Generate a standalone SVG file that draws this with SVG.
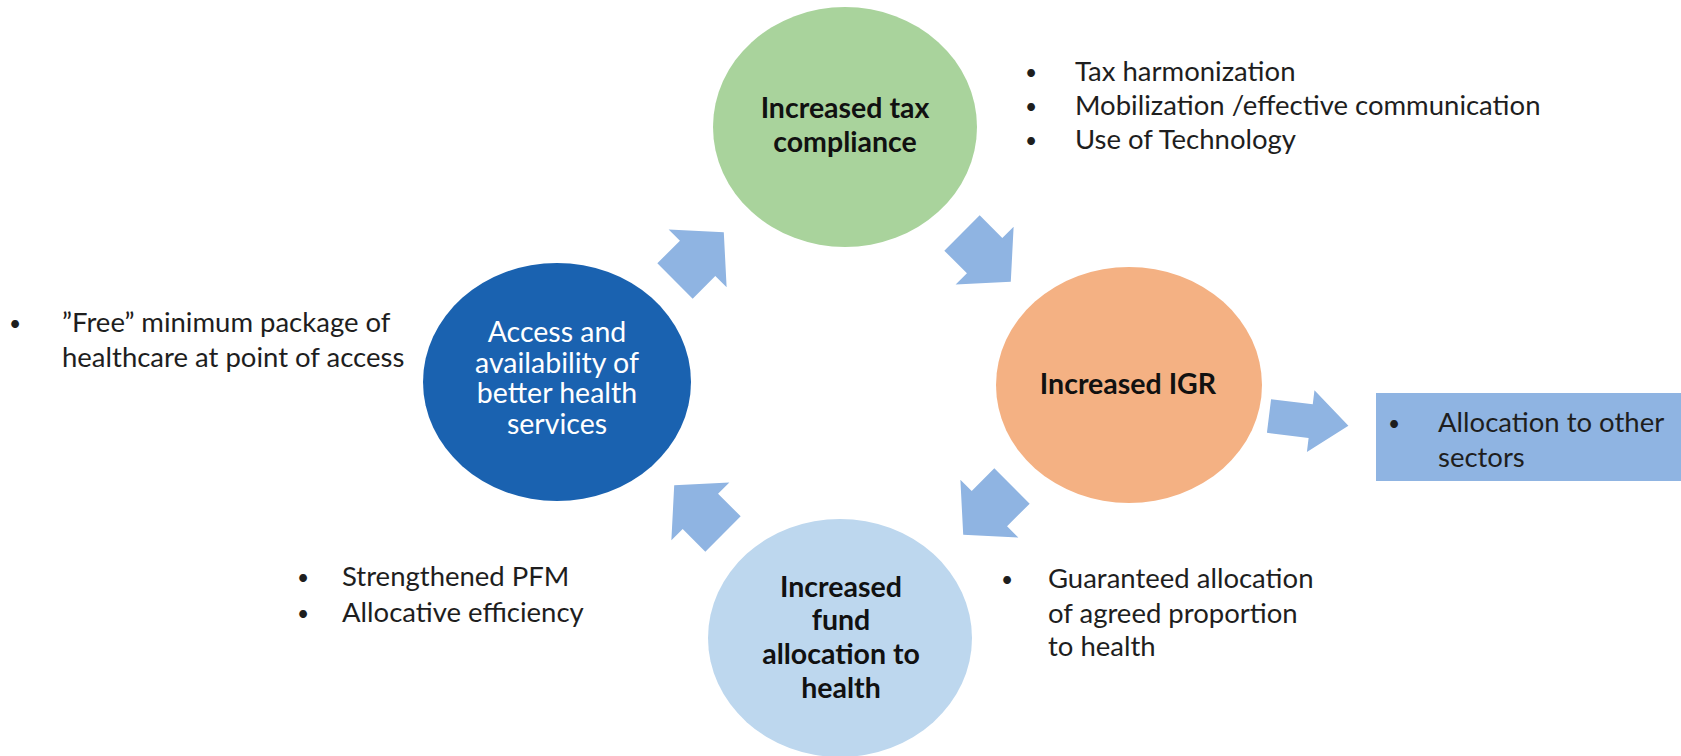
<svg xmlns="http://www.w3.org/2000/svg" width="1681" height="756" viewBox="0 0 1681 756">
<style>
  text { font-family: Lato, "Liberation Sans", sans-serif; }
  .title { font-weight: 700; font-size: 28.5px; fill: #111111; text-anchor: middle; }
  .wtitle { font-weight: 400; font-size: 28.5px; fill: #ffffff; text-anchor: middle; }
  .side { font-size: 27.5px; fill: #1e1e1e; }
  .bul { font-size: 21px; fill: #1e1e1e; text-anchor: middle; }
  .arrow { fill: #8fb4e2; }
</style>
<defs>
  <polygon id="arrowStd" class="arrow" points="0,-25 32,-25 32,-41 69,0 32,41 32,25 0,25"/>
  <polygon id="arrowLong" class="arrow" points="0,-17 42,-17 42,-31 80,0 42,31 42,17 0,17"/>
</defs>
<rect x="0" y="0" width="1681" height="756" fill="#ffffff"/>

<g id="connectors">
  <use href="#arrowStd" transform="translate(675,281) rotate(-45)"/>
  <use href="#arrowStd" transform="translate(962,233) rotate(45)"/>
  <use href="#arrowStd" transform="translate(1012,486) rotate(135)"/>
  <use href="#arrowStd" transform="translate(723,534) rotate(-135)"/>
  <use href="#arrowLong" transform="translate(1269,416) rotate(7)"/>
</g>

<g id="node-tax">
  <ellipse cx="845" cy="127" rx="132" ry="120" fill="#a9d39c"/>
  <text class="title" x="845" y="118">Increased tax</text>
  <text class="title" x="845" y="152">compliance</text>
</g>

<g id="node-access">
  <ellipse cx="557" cy="382" rx="134" ry="119" fill="#1a62b0"/>
  <text class="wtitle" x="557" y="342">Access and</text>
  <text class="wtitle" x="557" y="372.5">availability of</text>
  <text class="wtitle" x="557" y="403">better health</text>
  <text class="wtitle" x="557" y="433.5">services</text>
</g>

<g id="node-igr">
  <ellipse cx="1129" cy="385" rx="133" ry="118" fill="#f4b183"/>
  <text class="title" x="1128" y="394">Increased IGR</text>
</g>

<g id="node-fund">
  <ellipse cx="840" cy="638" rx="132" ry="119" fill="#bdd7ee"/>
  <text class="title" x="841" y="597">Increased</text>
  <text class="title" x="841" y="630">fund</text>
  <text class="title" x="841" y="664">allocation to</text>
  <text class="title" x="841" y="698">health</text>
</g>

<g id="node-other-sectors">
  <rect x="1376" y="393" width="305" height="88" fill="#8fb4e2"/>
  <text class="bul" x="1394" y="431">•</text>
  <text class="side" x="1438" y="432">Allocation to other</text>
  <text class="side" x="1438" y="467">sectors</text>
</g>

<g id="list-tax">
  <text class="bul" x="1031" y="80">•</text>
  <text class="side" x="1075" y="81">Tax harmonization</text>
  <text class="bul" x="1031" y="114">•</text>
  <text class="side" x="1075" y="115">Mobilization /effective communication</text>
  <text class="bul" x="1031" y="148">•</text>
  <text class="side" x="1075" y="149">Use of Technology</text>
</g>

<g id="list-access">
  <text class="bul" x="15" y="331">•</text>
  <text class="side" x="62" y="332">”Free” minimum package of</text>
  <text class="side" x="62" y="367">healthcare at point of access</text>
</g>

<g id="list-pfm">
  <text class="bul" x="303" y="585">•</text>
  <text class="side" x="342" y="586">Strengthened PFM</text>
  <text class="bul" x="303" y="621">•</text>
  <text class="side" x="342" y="622">Allocative efficiency</text>
</g>

<g id="list-guaranteed">
  <text class="bul" x="1007" y="587">•</text>
  <text class="side" x="1048" y="588">Guaranteed allocation</text>
  <text class="side" x="1048" y="623">of agreed proportion</text>
  <text class="side" x="1048" y="656">to health</text>
</g>
</svg>
